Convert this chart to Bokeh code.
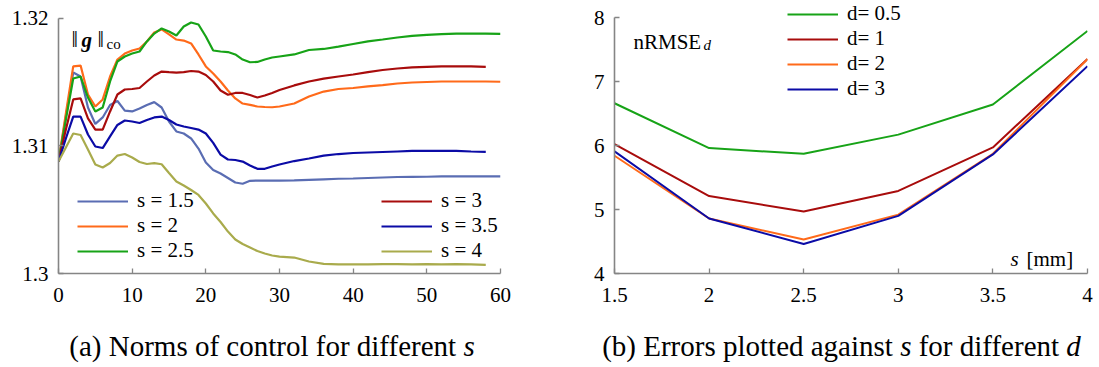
from bokeh.plotting import figure
from bokeh.models import Range1d, FixedTicker, Label, Legend, LegendItem, Div
from bokeh.layouts import row, column
from bokeh.embed import file_html
from bokeh.resources import INLINE

# ---------------- data: left panel (norms of control) ----------------
t_long = [0, 1, 2, 3, 4, 5, 6, 7, 8, 9, 10, 11, 12, 13, 14, 15, 16, 17, 18, 19, 20,
          21, 22, 23, 24, 25, 26, 27, 28, 29, 30, 32, 34, 36, 38, 40, 42, 44, 46, 48,
          50, 52, 54, 56, 58, 60]
t_short = [0, 1, 2, 3, 4, 5, 6, 7, 8, 9, 10, 11, 12, 13, 14, 15, 16, 17, 18, 19, 20,
           21, 22, 23, 24, 25, 26, 27, 28, 29, 30, 32, 34, 36, 38, 40, 42, 44, 46, 48,
           50, 52, 54, 56, 58]

norm_s15 = [1.30878, 1.31231, 1.31576, 1.31545, 1.31302, 1.31173, 1.31224, 1.31322, 1.31353,
            1.31278, 1.31271, 1.31294, 1.31322, 1.31344, 1.31302, 1.31192, 1.31114, 1.31098,
            1.31059, 1.30980, 1.30871, 1.30812, 1.30784, 1.30749, 1.30714, 1.30704, 1.30727,
            1.30729, 1.30729, 1.30729, 1.30729, 1.30731, 1.30735, 1.30739, 1.30743, 1.30745,
            1.30749, 1.30753, 1.30757, 1.30758, 1.30759, 1.30761, 1.30761, 1.30761, 1.30761,
            1.30761]
norm_s2 = [1.30878, 1.31255, 1.31624, 1.31631, 1.31404, 1.31310, 1.31365, 1.31545, 1.31678,
           1.31725, 1.31749, 1.31765, 1.31820, 1.31890, 1.31914, 1.31875, 1.31835, 1.31827,
           1.31804, 1.31718, 1.31624, 1.31569, 1.31506, 1.31435, 1.31373, 1.31333, 1.31322,
           1.31310, 1.31306, 1.31304, 1.31310, 1.31333, 1.31388, 1.31427, 1.31447, 1.31455,
           1.31467, 1.31478, 1.31490, 1.31498, 1.31502, 1.31506, 1.31506, 1.31506, 1.31506,
           1.31504]
norm_s25 = [1.30878, 1.31208, 1.31529, 1.31545, 1.31380, 1.31271, 1.31302, 1.31506, 1.31663,
            1.31702, 1.31725, 1.31741, 1.31820, 1.31882, 1.31922, 1.31898, 1.31867, 1.31937,
            1.31969, 1.31953, 1.31859, 1.31749, 1.31741, 1.31737, 1.31718, 1.31678, 1.31657,
            1.31659, 1.31678, 1.31694, 1.31702, 1.31718, 1.31753, 1.31761, 1.31780, 1.31800,
            1.31820, 1.31835, 1.31851, 1.31863, 1.31871, 1.31878, 1.31882, 1.31882, 1.31882,
            1.31880]
norm_s3 = [1.30878, 1.31129, 1.31365, 1.31373, 1.31216, 1.31129, 1.31129, 1.31271, 1.31404,
           1.31443, 1.31447, 1.31455, 1.31506, 1.31553, 1.31584, 1.31579, 1.31576, 1.31579,
           1.31588, 1.31584, 1.31557, 1.31506, 1.31435, 1.31402, 1.31416, 1.31416, 1.31400,
           1.31380, 1.31396, 1.31416, 1.31439, 1.31475, 1.31506, 1.31529, 1.31545, 1.31561,
           1.31580, 1.31596, 1.31608, 1.31616, 1.31620, 1.31624, 1.31624, 1.31624, 1.31621]
norm_s35 = [1.30878, 1.31059, 1.31231, 1.31231, 1.31090, 1.30996, 1.30984, 1.31075, 1.31165,
            1.31200, 1.31192, 1.31180, 1.31204, 1.31224, 1.31231, 1.31204, 1.31169, 1.31153,
            1.31141, 1.31129, 1.31098, 1.31024, 1.30933, 1.30894, 1.30890, 1.30878, 1.30847,
            1.30821, 1.30821, 1.30839, 1.30855, 1.30882, 1.30902, 1.30925, 1.30937, 1.30945,
            1.30949, 1.30953, 1.30957, 1.30961, 1.30961, 1.30961, 1.30961, 1.30957, 1.30954]
norm_s4 = [1.30878, 1.30988, 1.31098, 1.31086, 1.30973, 1.30855, 1.30831, 1.30867, 1.30925,
           1.30937, 1.30910, 1.30875, 1.30859, 1.30865, 1.30857, 1.30788, 1.30722, 1.30690,
           1.30655, 1.30616, 1.30549, 1.30471, 1.30404, 1.30329, 1.30267, 1.30231, 1.30204,
           1.30176, 1.30157, 1.30141, 1.30133, 1.30125, 1.30094, 1.30075, 1.30071, 1.30071,
           1.30071, 1.30073, 1.30073, 1.30071, 1.30073, 1.30071, 1.30073, 1.30071, 1.30068]

left_x_ticks = [0, 10, 20, 30, 40, 50, 60]
left_x_labels = ["0", "10", "20", "30", "40", "50", "60"]
left_y_ticks = [1.30, 1.31, 1.32]
left_y_labels = ["1.3", "1.31", "1.32"]

# ---------------- data: right panel (errors) ----------------
s_vals = [1.5, 2.0, 2.5, 3.0, 3.5, 4.0]
err_d05 = [6.66, 5.96, 5.87, 6.17, 6.64, 7.79]
err_d1 = [6.02, 5.21, 4.97, 5.29, 5.97, 7.35]
err_d2 = [5.84, 4.86, 4.53, 4.92, 5.87, 7.35]
err_d3 = [5.91, 4.86, 4.46, 4.90, 5.86, 7.24]

right_x_ticks = [1.5, 2.0, 2.5, 3.0, 3.5, 4.0]
right_x_labels = ["1.5", "2", "2.5", "3", "3.5", "4"]
right_y_ticks = [4, 5, 6, 7, 8]
right_y_labels = ["4", "5", "6", "7", "8"]

# ---------------- styles ----------------
C_S15 = "#5a6db3"
C_ORANGE = "#ff6a1a"
C_GREEN = "#17a317"
C_RED = "#a80c0c"
C_BLUE = "#0b0ba6"
C_OLIVE = "#a9ab4c"
AXIS_C = "#858585"
SERIF = "'Liberation Serif', 'DejaVu Serif', serif"
TICK_FS = "21px"


def style(p, xt, xl, yt, yl):
    p.outline_line_color = None
    p.xgrid.visible = False
    p.ygrid.visible = False
    p.background_fill_color = "white"
    p.border_fill_color = "white"
    for ax, ticks, labels, so in ((p.xaxis[0], xt, xl, 14), (p.yaxis[0], yt, yl, 10)):
        ax.ticker = FixedTicker(ticks=ticks, minor_ticks=[])
        ax.major_label_overrides = dict(zip(ticks, labels))
        ax.bounds = (ticks[0], ticks[-1])
        ax.axis_line_color = AXIS_C
        ax.axis_line_width = 1.6
        ax.major_tick_line_color = AXIS_C
        ax.major_tick_line_width = 1.3
        ax.major_tick_in = 5
        ax.major_tick_out = 0
        ax.minor_tick_line_color = None
        ax.major_label_text_font = SERIF
        ax.major_label_text_font_size = TICK_FS
        ax.major_label_text_color = "black"
        ax.major_label_standoff = so


def lab(p, text, x, y, size="21px", style_="normal", align="left"):
    p.add_layout(Label(x=x, y=y, x_units="screen", y_units="screen", text=text,
                       text_font=SERIF, text_font_size=size, text_font_style=style_,
                       text_color="black", text_baseline="alphabetic", text_align=align))


def legend(items, loc):
    return Legend(items=items, location=loc, orientation="vertical", padding=0, margin=0,
                  spacing=-1, glyph_width=51, glyph_height=24, label_height=24,
                  label_standoff=9, label_text_font=SERIF, label_text_font_size="21px",
                  label_text_color="black", border_line_alpha=0, background_fill_alpha=0)


# frames run from y=1 to y=273; the 16 px above the last tick keep legends unclipped
# ---------------- left figure ----------------
p1 = figure(width=538, height=320, output_backend="svg", toolbar_location=None,
            x_range=Range1d(0, 60), y_range=Range1d(1.30, 1.321333),
            min_border_left=58, min_border_right=38, min_border_top=1, min_border_bottom=47)
style(p1, left_x_ticks, left_x_labels, left_y_ticks, left_y_labels)

lw = 2.2
r15 = p1.line(t_long, norm_s15, line_color=C_S15, line_width=lw)
r2 = p1.line(t_long, norm_s2, line_color=C_ORANGE, line_width=lw)
r25 = p1.line(t_long, norm_s25, line_color=C_GREEN, line_width=lw)
r3 = p1.line(t_short, norm_s3, line_color=C_RED, line_width=lw)
r35 = p1.line(t_short, norm_s35, line_color=C_BLUE, line_width=lw)
r4 = p1.line(t_short, norm_s4, line_color=C_OLIVE, line_width=lw)

p1.add_layout(legend([LegendItem(label="s = 1.5", renderers=[r15]),
                      LegendItem(label="s = 2", renderers=[r2]),
                      LegendItem(label="s = 2.5", renderers=[r25])], (19, 10)))
p1.add_layout(legend([LegendItem(label="s = 3", renderers=[r3]),
                      LegendItem(label="s = 3.5", renderers=[r35]),
                      LegendItem(label="s = 4", renderers=[r4])], (323, 10)))

# y label  ||g||_co
lab(p1, "\u2016", 13, 234, size="23px")
lab(p1, "g", 23, 234, style_="bold italic")
lab(p1, "\u2016", 39, 234, size="23px")
lab(p1, "co", 48, 230, size="15px")

# ---------------- right figure ----------------
p2 = figure(width=561, height=320, output_backend="svg", toolbar_location=None,
            x_range=Range1d(1.5, 4.0), y_range=Range1d(4, 8.25),
            min_border_left=76, min_border_right=12, min_border_top=1, min_border_bottom=47)
style(p2, right_x_ticks, right_x_labels, right_y_ticks, right_y_labels)

lw2 = 2.0
q05 = p2.line(s_vals, err_d05, line_color=C_GREEN, line_width=lw2)
q1 = p2.line(s_vals, err_d1, line_color=C_RED, line_width=lw2)
q2 = p2.line(s_vals, err_d2, line_color=C_ORANGE, line_width=lw2)
q3 = p2.line(s_vals, err_d3, line_color=C_BLUE, line_width=lw2)

p2.add_layout(legend([LegendItem(label="d= 0.5", renderers=[q05]),
                      LegendItem(label="d= 1", renderers=[q1]),
                      LegendItem(label="d= 2", renderers=[q2]),
                      LegendItem(label="d= 3", renderers=[q3])], (173, 172)))

# y label nRMSE_d
lab(p2, "nRMSE", 19, 232)
lab(p2, "d", 89, 229, size="15px", style_="italic")
# x label s [mm]
lab(p2, "s", 396, 15, style_="italic")
lab(p2, "[mm]", 412, 15)

# ---------------- captions ----------------
CAP = ("font-family:'Liberation Serif','DejaVu Serif',serif; font-size:29px; line-height:29px; "
       "color:black; white-space:nowrap; text-align:center; padding-top:12px;")
cap_a = Div(text=f'<div style="{CAP} width:544px;">(a) Norms of control for different <i>s</i></div>',
            width=538, height=46, margin=(0, 0, 0, 0))
cap_b = Div(text=f'<div style="{CAP} width:561px; padding-left:46px;">(b) Errors plotted against '
                 f'<i>s</i> for different <i>d</i></div>',
            width=561, height=46, margin=(0, 0, 0, 0))

layout = column(row(p1, p2), row(cap_a, cap_b))
open("out.html", "w").write(file_html(layout, INLINE))
